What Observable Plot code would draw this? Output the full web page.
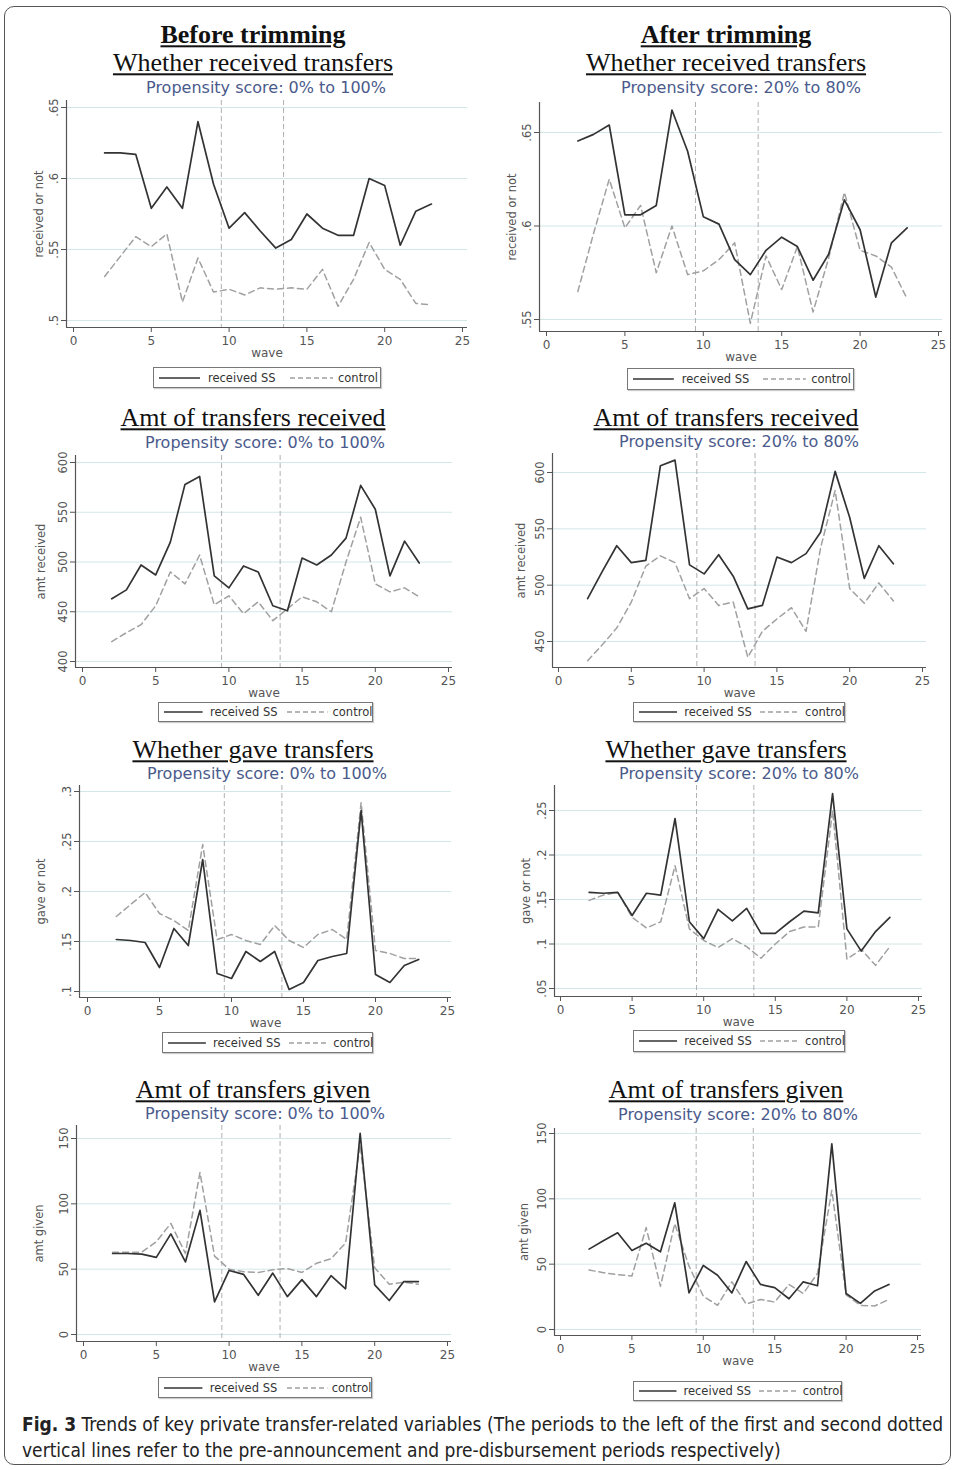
<!DOCTYPE html>
<html><head><meta charset="utf-8">
<script src="https://cdn.jsdelivr.net/npm/d3@7"></script>
<script src="https://cdn.jsdelivr.net/npm/@observablehq/plot@0.6"></script>
<style>
body{margin:0;background:#fff;}
#fig{position:relative;width:956px;height:1470px;overflow:hidden;font-family:"DejaVu Sans",sans-serif;background:#fff;}
.border{position:absolute;left:4px;top:6px;width:947px;height:1459px;border:1.5px solid #555;border-radius:10px;box-sizing:border-box;}
.ttl{position:absolute;font-family:"Liberation Serif","Times New Roman",serif;font-size:26px;text-decoration:underline;text-decoration-thickness:1.5px;text-underline-offset:2px;color:#111;white-space:nowrap;transform:translate(-50%,-50%);line-height:0.9;}
.ttl.b{font-weight:bold;}
.sub{position:absolute;font-size:16px;color:#4a5a8c;white-space:nowrap;transform:translate(-50%,-50%);line-height:0.9;}
.leg{position:absolute;border:1px solid #777;box-shadow:1px 1px 1px #ccc;box-sizing:border-box;font-size:11.5px;color:#333;white-space:nowrap;}
.leg > *{position:absolute;top:50%;transform:translateY(-50%);}
.leg svg{display:block;}
.pl{position:absolute;}
.cap{position:absolute;font-family:"Liberation Sans Narrow","DejaVu Sans Condensed",sans-serif;font-size:19px;line-height:26px;color:#222;white-space:nowrap;}
</style>
</head><body>
<div id="fig"><div class="border"></div></div>
<script>
// ---------- data ----------
const waves = [2,3,4,5,6,7,8,9,10,11,12,13,14,15,16,17,18,19,20,21,22,23];
const xTicks = [0,5,10,15,20,25];
const refLines = [9.5,13.5];
const seriesNames = ["received SS","control"];

const recvBeforeSS   = [.618,.618,.617,.579,.594,.579,.640,.596,.565,.576,.563,.551,.557,.575,.565,.560,.560,.600,.595,.553,.577,.582];
const recvBeforeCtrl = [.531,.545,.559,.552,.561,.513,.544,.520,.522,.518,.523,.522,.523,.522,.536,.510,.529,.555,.536,.529,.512,.511];
const recvAfterSS    = [.6455,.649,.654,.606,.606,.611,.662,.640,.605,.601,.582,.574,.587,.594,.589,.571,.585,.614,.598,.562,.591,.599];
const recvAfterCtrl  = [.565,.596,.625,.599,.611,.575,.600,.574,.576,.582,.591,.548,.584,.566,.589,.554,.583,.618,.587,.584,.578,.561];

const amtRecvBeforeSS   = [463,472,497,487,520,578,586,486,474,496,490,456,451,504,497,507,524,577,553,486,521,499];
const amtRecvBeforeCtrl = [420,429,437,456,490,478,507,457,466,448,460,441,453,465,460,450,500,545,478,470,474,465];
const amtRecvAfterSS    = [488,512,535,520,522,606,611,518,510,527,508,479,482,525,520,528,547,601,560,506,535,519];
const amtRecvAfterCtrl  = [433,447,462,485,517,526,520,488,497,482,485,436,459,470,480,459,533,584,497,484,502,486];

const gaveBeforeSS   = [.152,.151,.149,.124,.163,.146,.232,.118,.113,.140,.130,.140,.102,.109,.131,.135,.138,.281,.117,.109,.126,.132];
const gaveBeforeCtrl = [.175,.187,.199,.178,.171,.161,.247,.152,.157,.151,.147,.166,.151,.144,.157,.162,.152,.289,.141,.138,.133,.133];
const gaveAfterSS    = [.158,.157,.158,.132,.157,.155,.241,.125,.106,.139,.126,.140,.112,.112,.125,.137,.135,.269,.117,.092,.114,.130];
const gaveAfterCtrl  = [.149,.155,.158,.130,.118,.125,.188,.117,.104,.096,.106,.097,.084,.100,.114,.119,.119,.250,.083,.094,.076,.097];

const amtGivenBeforeSS   = [62,62,61.5,59,77,55.5,95,25,49,46,30,47,29,42,29,45,35,154,38,26,40.5,40.5];
const amtGivenBeforeCtrl = [63,63,63,71,85,62,124,60,50,48,47.5,49.5,50.5,47.5,54.5,58,70,145,51,38.5,40,38.5];
const amtGivenAfterSS    = [61.5,68,74,60.5,66,59.5,97,28,49,41.5,28,52,34.5,32,23.5,36.5,33.5,142,27.5,20,29.5,34.5];
const amtGivenAfterCtrl  = [45.5,43.5,42,41,78,33,81,48.5,25.5,18.5,36.5,19.5,23,21,34.5,27.5,43,106.5,26.5,18.5,18,23];

const headerBefore = "Before trimming";
const headerAfter = "After trimming";
const subBefore = "Propensity score: 0% to 100%";
const subAfter = "Propensity score: 20% to 80%";

// ---------- layout (pixel placement of each panel) ----------
const panels = [
 {title:"Whether received transfers", sub:subBefore, head:headerBefore, ylabel:"received or not", ss:recvBeforeSS, ctrl:recvBeforeCtrl, yTicks:[.5,.55,.6,.65],
  svgLeft:12, yAxisX:66, px0:73, px25:462, frameRight:467, frameTop:100, frameBottom:327, t1:.5, p1:320, t2:.65, p2:107, ylabX:40,
  tx:253, ty:63, hy:35, sx:266, sy:88, leg:[153,367,228,21]},
 {title:"Whether received transfers", sub:subAfter, head:headerAfter, ylabel:"received or not", ss:recvAfterSS, ctrl:recvAfterCtrl, yTicks:[.55,.6,.65],
  svgLeft:490, yAxisX:539, px0:546, px25:938, frameRight:942, frameTop:102, frameBottom:331, t1:.55, p1:319, t2:.65, p2:132, ylabX:513,
  tx:726, ty:63, hy:35, sx:741, sy:88, leg:[627,368,227,22]},
 {title:"Amt of transfers received", sub:subBefore, ylabel:"amt received", ss:amtRecvBeforeSS, ctrl:amtRecvBeforeCtrl, yTicks:[400,450,500,550,600],
  svgLeft:12, yAxisX:75, px0:82, px25:448, frameRight:452, frameTop:455, frameBottom:667, t1:400, p1:661, t2:600, p2:462, ylabX:42,
  tx:253, ty:418, sx:265, sy:443, leg:[158,702,215,20]},
 {title:"Amt of transfers received", sub:subAfter, ylabel:"amt received", ss:amtRecvAfterSS, ctrl:amtRecvAfterCtrl, yTicks:[450,500,550,600],
  svgLeft:490, yAxisX:552, px0:558, px25:922, frameRight:926, frameTop:453, frameBottom:667, t1:450, p1:641, t2:600, p2:472, ylabX:522,
  tx:726, ty:418, sx:739, sy:442, leg:[633,702,212,20]},
 {title:"Whether gave transfers", sub:subBefore, ylabel:"gave or not", ss:gaveBeforeSS, ctrl:gaveBeforeCtrl, yTicks:[.1,.15,.2,.25,.3],
  svgLeft:12, yAxisX:79, px0:87, px25:447, frameRight:451, frameTop:785, frameBottom:997, t1:.1, p1:991, t2:.3, p2:791, ylabX:42,
  tx:253, ty:750, sx:267, sy:774, leg:[162,1032,211,21]},
 {title:"Whether gave transfers", sub:subAfter, ylabel:"gave or not", ss:gaveAfterSS, ctrl:gaveAfterCtrl, yTicks:[.05,.1,.15,.2,.25],
  svgLeft:490, yAxisX:554, px0:560, px25:918, frameRight:922, frameTop:785, frameBottom:996, t1:.05, p1:988, t2:.25, p2:810, ylabX:527,
  tx:726, ty:750, sx:739, sy:774, leg:[633,1030,212,22]},
 {title:"Amt of transfers given", sub:subBefore, ylabel:"amt given", ss:amtGivenBeforeSS, ctrl:amtGivenBeforeCtrl, yTicks:[0,50,100,150],
  svgLeft:12, yAxisX:76, px0:83, px25:447, frameRight:451, frameTop:1125, frameBottom:1341, t1:0, p1:1334, t2:150, p2:1138, ylabX:40,
  tx:253, ty:1090, sx:265, sy:1114, leg:[158,1377,214,21]},
 {title:"Amt of transfers given", sub:subAfter, ylabel:"amt given", ss:amtGivenAfterSS, ctrl:amtGivenAfterCtrl, yTicks:[0,50,100,150],
  svgLeft:490, yAxisX:554, px0:560, px25:917, frameRight:921, frameTop:1128, frameBottom:1335, t1:0, p1:1329, t2:150, p2:1133, ylabX:525,
  tx:726, ty:1090, sx:738, sy:1115, leg:[633,1381,209,20]}
];

const fig = document.getElementById("fig");
const fmt = d => { const s = String(+(+d).toFixed(3)); return s.replace(/^0\./, "."); };

function addDiv(cls, html, left, top) {
  const d = document.createElement("div");
  d.className = cls; d.innerHTML = html;
  d.style.left = left + "px"; d.style.top = top + "px";
  fig.appendChild(d); return d;
}

for (const p of panels) {
  if (p.head) addDiv("ttl b", p.head, p.tx, p.hy);
  addDiv("ttl", p.title, p.tx, p.ty);
  addDiv("sub", p.sub, p.sx, p.sy);

  const kx = (p.px25 - p.px0) / 25;
  const xa = (p.yAxisX - p.px0) / kx, xb = (p.frameRight - p.px0) / kx;
  const ky = (p.p1 - p.p2) / (p.t2 - p.t1);
  const ya = p.t1 - (p.frameBottom - p.p1) / ky;
  const yb = p.t2 + (p.p2 - p.frameTop) / ky;
  const mt = 8, mb = 40, mr = 8;
  const ml = p.yAxisX - p.svgLeft;
  const width = p.frameRight - p.svgLeft + mr;
  const height = p.frameBottom - p.frameTop + mt + mb;
  const rows = waves.flatMap((w, i) => [
    {wave: w, v: p.ss[i], s: seriesNames[0]},
    {wave: w, v: p.ctrl[i], s: seriesNames[1]}
  ]);
  const chart = Plot.plot({
    width, height, marginLeft: ml, marginRight: mr, marginTop: mt, marginBottom: mb,
    x: {domain: [xa, xb]},
    y: {domain: [ya, yb]},
    style: {fontFamily: "DejaVu Sans, sans-serif", fontSize: "11px", color: "#555", background: "transparent", overflow: "visible"},
    marks: [
      Plot.gridY({ticks: p.yTicks, stroke: "#d3e6e8", strokeOpacity: 1, strokeWidth: 1}),
      Plot.ruleX(refLines, {stroke: "#b0b0b0", strokeDasharray: "5,3", strokeWidth: 1}),
      Plot.axisX({ticks: xTicks, tickSize: 5, tickFormat: d => String(d), label: "wave", labelAnchor: "center", labelArrow: "none", labelOffset: 29, fontSize: 12, stroke: "#555"}),
      Plot.axisY({ticks: p.yTicks, tickFormat: fmt, tickRotate: -90, tickSize: 5, label: p.ylabel, labelAnchor: "center", labelArrow: "none", labelOffset: p.yAxisX - p.ylabX + 6, fontSize: 11.5, stroke: "#555"}),
      Plot.ruleX([xa], {stroke: "#555", strokeWidth: 1.2}),
      Plot.ruleY([ya], {stroke: "#555", strokeWidth: 1.2}),
      Plot.line(rows.filter(r => r.s === seriesNames[1]), {x: "wave", y: "v", stroke: "#a0a0a0", strokeWidth: 1.5, strokeDasharray: "6,4"}),
      Plot.line(rows.filter(r => r.s === seriesNames[0]), {x: "wave", y: "v", stroke: "#333", strokeWidth: 1.7})
    ]
  });
  const wrap = document.createElement("div");
  wrap.className = "pl";
  wrap.style.left = p.svgLeft + "px";
  wrap.style.top = (p.frameTop - mt) + "px";
  wrap.appendChild(chart);
  fig.appendChild(wrap);

  const [lx, ly, lw, lh] = p.leg;
  const f = lw / 228;
  const lg = addDiv("leg",
    `<svg width="44" height="10" style="left:${4*f}px"><line x1="1" x2="${42*f}" y1="5" y2="5" stroke="#333" stroke-width="1.6"/></svg>` +
    `<span style="left:${54*f}px">${seriesNames[0]}</span>` +
    `<svg width="46" height="10" style="left:${136*f}px"><line x1="0" x2="${43*f}" y1="5" y2="5" stroke="#a0a0a0" stroke-width="1.4" stroke-dasharray="5,3"/></svg>` +
    `<span style="left:${184*f}px">${seriesNames[1]}</span>`, lx, ly);
  lg.style.width = lw + "px"; lg.style.height = lh + "px";
}

addDiv("cap", `<b>Fig. 3</b> Trends of key private transfer-related variables (The periods to the left of the first and second dotted<br>vertical lines refer to the pre-announcement and pre-disbursement periods respectively)`, 22, 1411);
</script>
</body></html>
